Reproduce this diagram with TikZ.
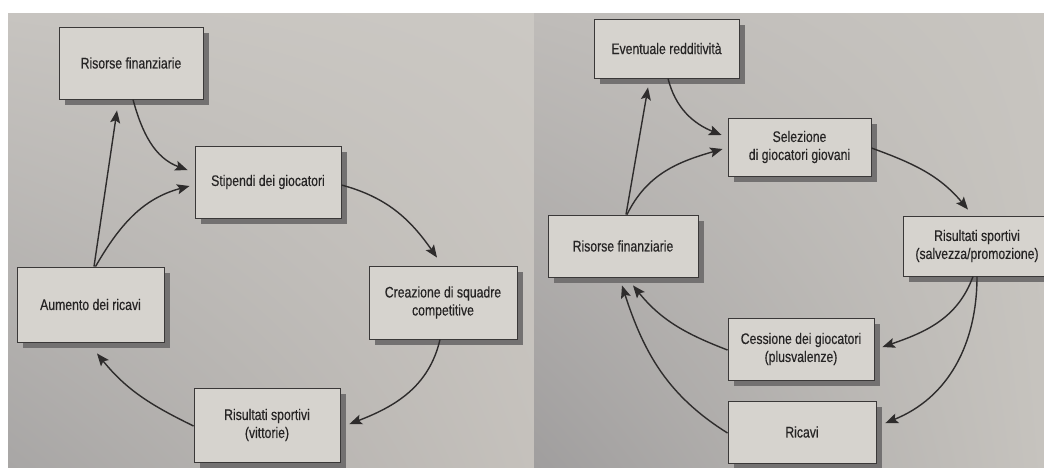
\documentclass[tikz,border=0pt]{standalone}
\usepackage{fontspec}
\setmainfont{Liberation Sans}[FakeStretch=0.8, FakeBold=0.4]
\usetikzlibrary{arrows.meta,shadows,shadings}

\definecolor{pageA}{HTML}{C7C4C0}
\definecolor{pageB}{HTML}{CBC8C3}
\definecolor{pageC}{HTML}{A8A6A5}
\definecolor{pageD}{HTML}{C5C1BC}
\definecolor{pageE}{HTML}{BFBCB9}
\definecolor{pageF}{HTML}{C8C5C0}
\definecolor{pageG}{HTML}{A09E9E}
\definecolor{pageH}{HTML}{C6C3BE}
\definecolor{boxfill}{HTML}{D6D3CE}
\definecolor{boxline}{HTML}{3A3838}
\definecolor{shadowc}{HTML}{737171}
\definecolor{ink}{HTML}{262424}
\definecolor{arrowc}{HTML}{2E2C2C}

\tikzset{
  stepbox/.style={draw=boxline, fill=boxfill, line width=0.9pt, inner sep=0pt,
    align=center, text=ink, font=\fontsize{15.3}{18}\selectfont,
    drop shadow={shadow xshift=5.5pt, shadow yshift=-6pt, fill=shadowc, opacity=1}},
  link/.style={draw=arrowc, line width=1.4pt,
    -{Stealth[length=12.5pt,width=10pt,inset=2.5pt]}},
}

\begin{document}
\begin{tikzpicture}[x=1pt,y=1pt]
  \useasboundingbox (0,0) rectangle (1044,-467);
  \clip (0,0) rectangle (1044,-467);
  \fill[white] (0,0) rectangle (1044,-467);
  % the two printed pages
  \shade[upper left=pageA, upper right=pageB, lower left=pageC, lower right=pageD]
    (8,-13) rectangle (534,-467);
  \shade[upper left=pageE, upper right=pageF, lower left=pageG, lower right=pageH]
    (534,-13) rectangle (1044,-467);

  % ---- first cycle ----
  \node[stepbox, minimum width=144pt, minimum height=72pt] (l1) at (131,-63) {Risorse finanziarie};
  \node[stepbox, minimum width=146pt, minimum height=72pt] (l2) at (268,-182) {Stipendi dei giocatori};
  \node[stepbox, minimum width=148pt, minimum height=73pt] (l3) at (443,-302.5) {Creazione di squadre\\competitive};
  \node[stepbox, minimum width=146pt, minimum height=74pt] (l4) at (267,-425) {Risultati sportivi\\(vittorie)};
  \node[stepbox, minimum width=147pt, minimum height=75pt] (l5) at (90.5,-304.5) {Aumento dei ricavi};

  \draw[link] ([xshift=2pt]l1.south) to[out=-75, in=160] ([shift={(-7pt,12pt)}]l2.west);
  \draw[link] ([xshift=3.5pt]l5.north) -- ([shift={(-14pt,-11pt)}]l1.south);
  \draw[link] ([xshift=5pt]l5.north) to[out=60, in=195] ([shift={(-5pt,-4pt)}]l2.west);
  \draw[link] ([yshift=-3pt]l2.east) to[out=-15, in=125] ([shift={(-6pt,8pt)}]l3.north);
  \draw[link] ([xshift=-3pt]l3.south) to[out=-103, in=21] ([shift={(9pt,1pt)}]l4.east);
  \draw[link] ([yshift=-1pt]l4.west) to[out=154, in=-51] ([shift={(6.5pt,-11pt)}]l5.south);

  % ---- second cycle ----
  \node[stepbox, minimum width=145pt, minimum height=59pt] (r1) at (666.5,-48.5) {Eventuale redditività};
  \node[stepbox, minimum width=143pt, minimum height=58pt] (r2) at (799.5,-147) {Selezione\\di giocatori giovani};
  \node[stepbox, minimum width=148pt, minimum height=60pt] (r3) at (977,-246) {Risultati sportivi\\(salvezza/promozione)};
  \node[stepbox, minimum width=146pt, minimum height=62pt] (r4) at (801,-349) {Cessione dei giocatori\\(plusvalenze)};
  \node[stepbox, minimum width=148pt, minimum height=62pt] (r5) at (802,-432) {Ricavi};
  \node[stepbox, minimum width=150pt, minimum height=62pt] (r6) at (623,-246) {Risorse finanziarie};

  \draw[link] ([xshift=1.5pt]r1.south) to[out=-76, in=158] ([shift={(-6pt,12pt)}]r2.west);
  \draw[link] ([xshift=3pt]r6.north) -- ([shift={(-18.5pt,-9pt)}]r1.south);
  \draw[link] ([xshift=4pt]r6.north) to[out=64, in=196] ([shift={(-5pt,-2pt)}]r2.west);
  \draw[link] ([yshift=-1pt]r2.east) to[out=-20, in=130] ([shift={(-9pt,6pt)}]r3.north);
  \draw[link] ([xshift=-4pt]r3.south) to[out=-110, in=19] ([shift={(8pt,2pt)}]r4.east);
  \draw[link] (r3.south) to[out=-90, in=22] ([shift={(9pt,9pt)}]r5.east);
  \draw[link] ([yshift=-1pt]r4.west) to[out=159, in=-51] ([shift={(10pt,-8pt)}]r6.south);
  \draw[link] ([yshift=-1pt]r5.west) to[out=148, in=-72] ([shift={(-1pt,-8pt)}]r6.south);
\end{tikzpicture}
\end{document}
